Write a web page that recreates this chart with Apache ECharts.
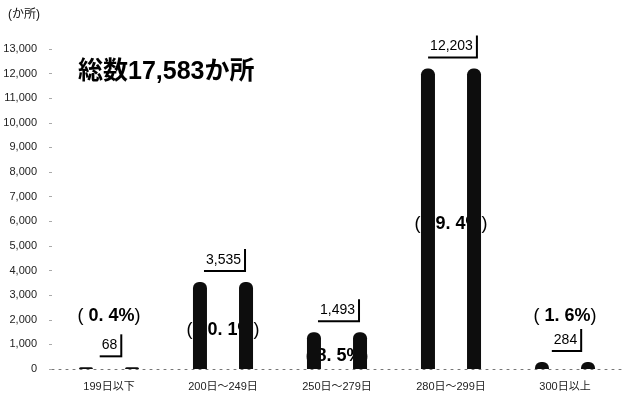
<!DOCTYPE html>
<html>
<head>
<meta charset="utf-8">
<script src="https://cdn.jsdelivr.net/npm/echarts@6/dist/echarts.min.js"></script>
<style>
  html, body { margin: 0; padding: 0; background: #fff; }
  #chart { width: 622px; height: 401px; }
</style>
</head>
<body>
<div id="chart"></div>
<script>
// Facilities by number of operating days
const categories = ['199日以下', '200日～249日', '250日～279日', '280日～299日', '300日以上'];
const facilityCounts = [68, 3535, 1493, 12203, 284];
const sharePercents = [0.4, 20.1, 8.5, 69.4, 1.6];
const yTickValues = [0, 1000, 2000, 3000, 4000, 5000, 6000, 7000, 8000, 9000, 10000, 11000, 12000, 13000];
const totalLabel = '総数17,583か所';
const unitLabel = '(か所)';

const NARROW = "'Liberation Sans Narrow', 'Liberation Sans', 'Noto Sans CJK JP', sans-serif";
const SANS = "'Liberation Sans', 'Noto Sans CJK JP', sans-serif";
const SMALL_SHARE_LEVEL = 2350; // small shares are written above the count box

const fmtCount = v => v.toLocaleString('en-US');
const fmtShare = p => String(p.toFixed(1)).replace('.', '. ');

const chart = echarts.init(document.getElementById('chart'), null, { renderer: 'canvas' });

const barStyle = { color: '#0d0d0d', borderRadius: [6, 6, 0, 0] };

chart.setOption({
  animation: false,
  backgroundColor: '#fff',
  grid: { left: 52, top: 49, width: 590, height: 320, containLabel: false },
  xAxis: {
    type: 'category',
    data: categories,
    boundaryGap: true,
    axisLine: { show: true, lineStyle: { color: '#777', width: 1, type: [2, 5] } },
    axisTick: { show: false },
    axisLabel: { margin: 12, fontFamily: NARROW, fontSize: 11, color: '#222' }
  },
  yAxis: {
    type: 'value',
    min: 0,
    max: yTickValues[yTickValues.length - 1],
    interval: yTickValues[1] - yTickValues[0],
    axisLine: { show: false },
    axisTick: { show: true, length: 3, lineStyle: { color: '#aaa' } },
    splitLine: { show: false },
    axisLabel: { margin: 15, fontFamily: NARROW, fontSize: 11, color: '#222', formatter: v => fmtCount(v) }
  },
  series: [
    {
      // share labels sit underneath the bars
      type: 'scatter',
      z: 1,
      symbolSize: 0,
      silent: true,
      itemStyle: { opacity: 1 },
      data: facilityCounts.map((v, i) => sharePercents[i] < 5 ? SMALL_SHARE_LEVEL : v / 2),
      label: {
        show: true,
        position: 'inside',
        offset: [0, 5],
        formatter: p => '{p|(}{n| ' + fmtShare(sharePercents[p.dataIndex]) + '%}{p|)}',
        rich: {
          p: { fontFamily: SANS, fontSize: 18, color: '#000' },
          n: { fontFamily: SANS, fontSize: 18, fontWeight: 'bold', color: '#000' }
        }
      }
    },
    {
      type: 'bar',
      z: 2,
      data: facilityCounts,
      barWidth: 14,
      barGap: '229%',
      itemStyle: barStyle
    },
    {
      type: 'bar',
      z: 2,
      data: facilityCounts,
      barWidth: 14,
      barGap: '229%',
      itemStyle: barStyle
    },
    {
      // count boxes above each pair of bars
      type: 'scatter',
      z: 3,
      symbolSize: 0,
      silent: true,
      itemStyle: { opacity: 1 },
      data: facilityCounts,
      label: {
        show: true,
        position: 'top',
        distance: 12,
        formatter: p => fmtCount(p.value),
        fontFamily: NARROW,
        fontSize: 14,
        color: '#000',
        backgroundColor: '#fff',
        padding: [6, 3, 3, 4],
        shadowColor: '#000',
        shadowBlur: 0,
        shadowOffsetX: 2,
        shadowOffsetY: 2
      }
    }
  ],
  graphic: [
    {
      type: 'text',
      left: 8,
      top: 9,
      style: { text: unitLabel, fontFamily: SANS, fontSize: 12, fill: '#111' }
    },
    {
      type: 'text',
      left: 78,
      top: 60,
      style: { text: totalLabel, fontFamily: SANS, fontSize: 25, fontWeight: 'bold', fill: '#000' }
    }
  ]
});
</script>
</body>
</html>
